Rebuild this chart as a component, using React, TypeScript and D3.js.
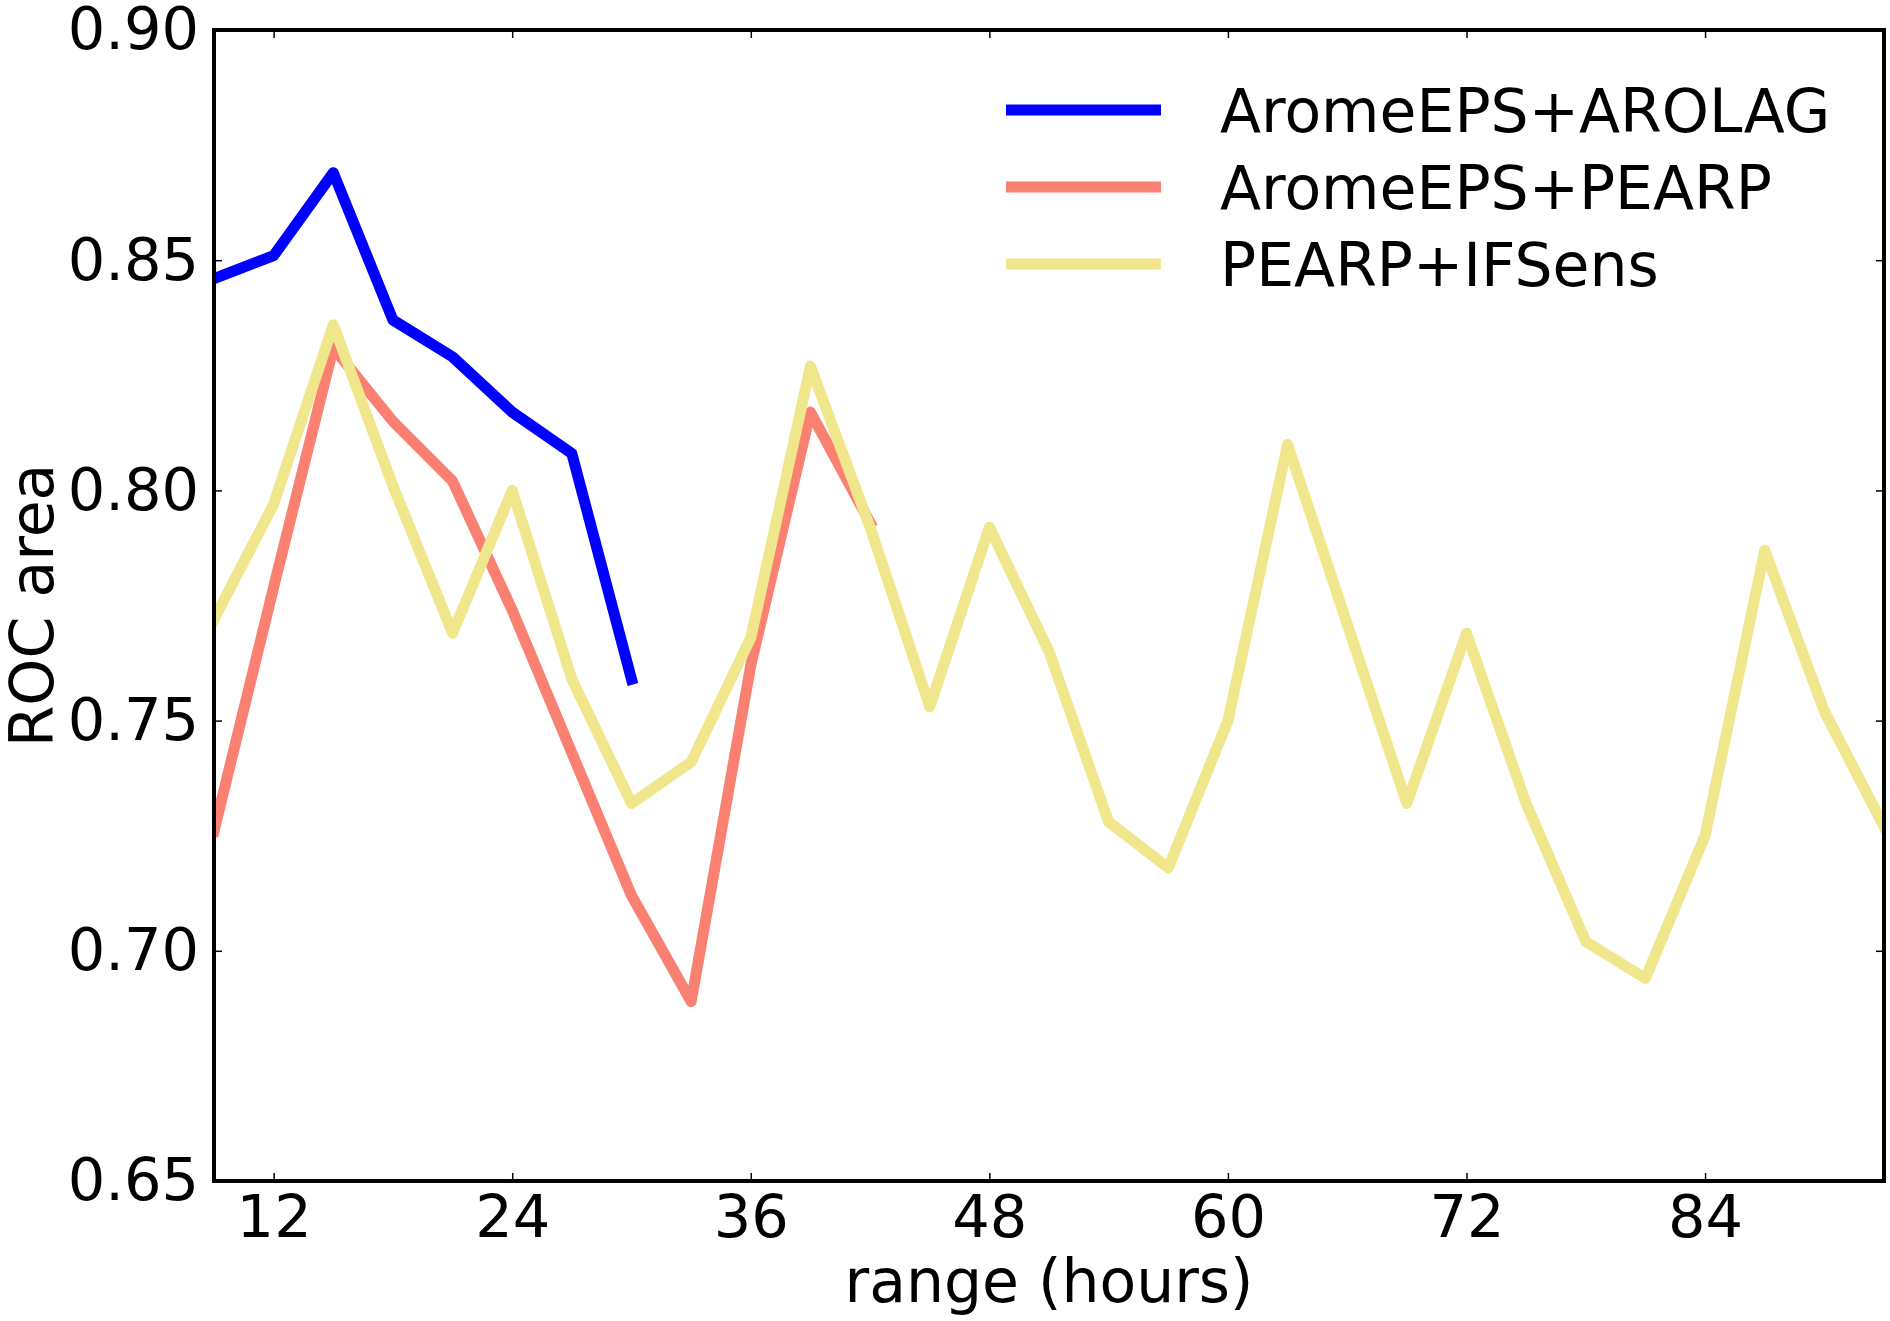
import React, { useEffect, useRef } from 'react';
import * as d3 from 'd3';

// lead times (hours) and ROC area per system
const leadHours = [9, 12, 15, 18, 21, 24, 27, 30, 33, 36, 39, 42, 45, 48, 51, 54, 57, 60, 63, 66, 69, 72, 75, 78, 81, 84, 87, 90, 93];
const aromeArolag = [0.846, 0.851, 0.869, 0.837, 0.829, 0.817, 0.808, 0.759];
const aromePearp = [0.726, 0.779, 0.831, 0.815, 0.802, 0.774, 0.743, 0.712, 0.689, 0.762, 0.817, 0.793];
const pearpIfsens = [
    0.772, 0.797, 0.836, 0.801, 0.769, 0.800, 0.759, 0.732, 0.741, 0.768,
    0.827, 0.792, 0.753, 0.792, 0.765, 0.728, 0.718, 0.750, 0.810, 0.771,
    0.732, 0.769, 0.732, 0.702, 0.694, 0.725, 0.787, 0.752, 0.727,
];

const seriesNames = ['AromeEPS+AROLAG', 'AromeEPS+PEARP', 'PEARP+IFSens'];
const seriesColors = ['#0000ff', '#fa8072', '#f0e68c'];

const xTicks = [12, 24, 36, 48, 60, 72, 84];
const yTicks = [0.65, 0.70, 0.75, 0.80, 0.85, 0.90];

const App: React.FC = () => {
    const containerRef = useRef<HTMLDivElement>(null);

    useEffect(() => {
        if (!containerRef.current) return;
        const container = d3.select(containerRef.current);

        const width = 1890;
        const height = 1321;
        const margin = { top: 30, right: 6, bottom: 140, left: 214 };
        const innerWidth = width - margin.left - margin.right;
        const innerHeight = height - margin.top - margin.bottom;
        const font = 'DejaVu Sans, sans-serif';
        const tickFont = 59;
        const labelFont = 60;

        const xScale = d3.scaleLinear().domain([9, 93]).range([0, innerWidth]);
        const yScale = d3.scaleLinear().domain([0.65, 0.9]).range([innerHeight, 0]);

        const svg = container
            .append('svg')
            .attr('width', width)
            .attr('height', height)
            .style('position', 'absolute')
            .style('left', '0px')
            .style('top', '0px')
            .style('background', '#ffffff');

        const g = svg.append('g').attr('transform', `translate(${margin.left},${margin.top})`);

        // clip so thick lines stop at the frame
        svg.append('defs')
            .append('clipPath')
            .attr('id', 'plot-clip')
            .append('rect')
            .attr('width', innerWidth)
            .attr('height', innerHeight);

        const line = d3
            .line<number>()
            .x((_, i) => xScale(leadHours[i]))
            .y((d) => yScale(d));

        const allSeries = [aromeArolag, aromePearp, pearpIfsens];
        const lines = g.append('g').attr('clip-path', 'url(#plot-clip)');
        allSeries.forEach((values, i) => {
            lines
                .append('path')
                .datum(values)
                .attr('fill', 'none')
                .attr('stroke', seriesColors[i])
                .attr('stroke-width', 11)
                .attr('stroke-linejoin', 'round')
                .attr('stroke-linecap', 'square')
                .attr('d', line);
        });

        // axes with inward ticks on all four sides
        const tickLen = 8;
        const bottom = g
            .append('g')
            .attr('transform', `translate(0,${innerHeight})`)
            .call(d3.axisBottom(xScale).tickValues(xTicks).tickSize(-tickLen).tickPadding(14));
        const left = g
            .append('g')
            .call(d3.axisLeft(yScale).tickValues(yTicks).tickSize(-tickLen).tickPadding(15).tickFormat(d3.format('.2f')));
        g.append('g')
            .call(d3.axisTop(xScale).tickValues(xTicks).tickSize(-tickLen).tickFormat(() => ''));
        g.append('g')
            .attr('transform', `translate(${innerWidth},0)`)
            .call(d3.axisRight(yScale).tickValues(yTicks).tickSize(-tickLen).tickFormat(() => ''));

        g.selectAll('.domain').remove();
        g.selectAll('.tick line').attr('stroke', '#000').attr('stroke-width', 1.5);
        [bottom, left].forEach((ax) =>
            ax.selectAll('.tick text').attr('fill', '#000').style('font-family', font).style('font-size', `${tickFont}px`)
        );

        // frame
        g.append('rect')
            .attr('width', innerWidth)
            .attr('height', innerHeight)
            .attr('fill', 'none')
            .attr('stroke', '#000')
            .attr('stroke-width', 4);

        // axis titles
        svg.append('text')
            .attr('x', margin.left + innerWidth / 2)
            .attr('y', 1302)
            .attr('text-anchor', 'middle')
            .style('font-family', font)
            .style('font-size', `${labelFont}px`)
            .text('range (hours)');

        svg.append('text')
            .attr('transform', `translate(53,${margin.top + innerHeight / 2}) rotate(-90)`)
            .attr('text-anchor', 'middle')
            .style('font-family', font)
            .style('font-size', `${labelFont}px`)
            .text('ROC area');

        // legend
        const legend = svg.append('g');
        seriesNames.forEach((name, i) => {
            const y = 110 + i * 77;
            legend
                .append('line')
                .attr('x1', 1006)
                .attr('x2', 1161)
                .attr('y1', y)
                .attr('y2', y)
                .attr('stroke', seriesColors[i])
                .attr('stroke-width', 11);
            legend
                .append('text')
                .attr('x', 1220)
                .attr('y', y)
                .attr('dy', '0.36em')
                .style('font-family', font)
                .style('font-size', `${labelFont}px`)
                .text(name);
        });

        return () => {
            svg.remove();
        };
    }, []);

    return <div ref={containerRef} />;
};

export default App;
